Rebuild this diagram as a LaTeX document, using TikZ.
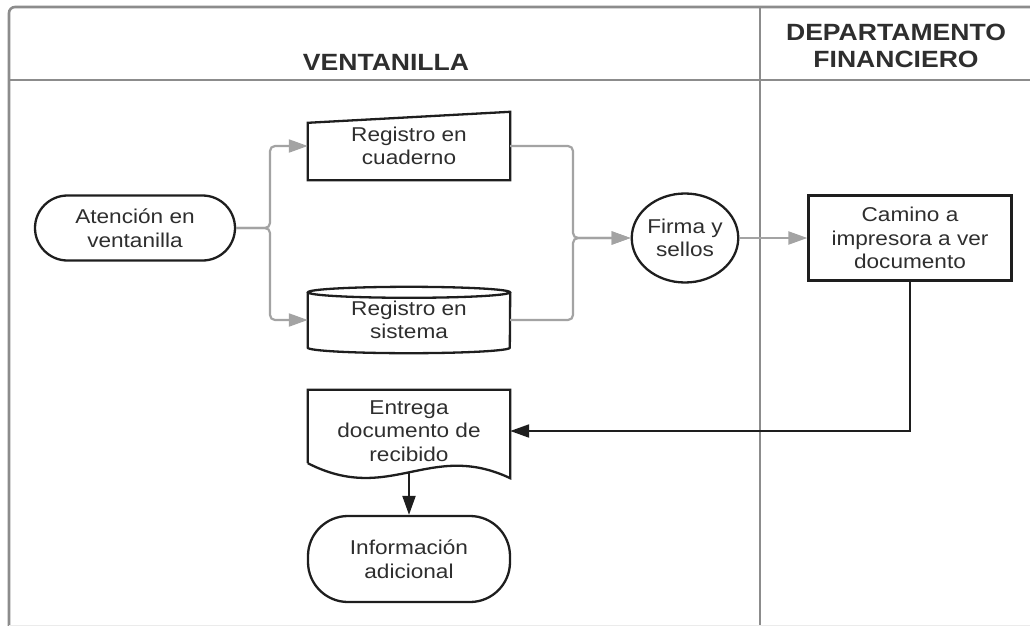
\documentclass[tikz,border=0pt]{standalone}
\usepackage{fontspec}
\setmainfont{Liberation Sans}[FakeStretch=1.13]
\usepackage{xcolor}
\usepackage{tikz}
\usetikzlibrary{calc,arrows.meta,shapes.geometric,shapes.misc}
\definecolor{ink}{HTML}{1E1E1E}
\definecolor{txt}{HTML}{2E2E2E}
\definecolor{lane}{HTML}{8C8C8C}
\definecolor{flow}{HTML}{A3A3A3}
\tikzset{
  lab/.style={text=txt, align=center, inner sep=0pt, font=\fontsize{20}{23.5}\selectfont},
  head/.style={text=txt, align=center, font=\fontsize{23.5}{27}\selectfont\bfseries},
  laneLine/.style={line width=2.6pt, draw=lane},
  shapeLine/.style={line width=2.3pt, draw=ink},
  flowGray/.style={line width=2.2pt, draw=flow, rounded corners=5pt, -{Triangle[length=19pt,width=13pt]}},
  flowBlack/.style={line width=2.2pt, draw=ink, -{Triangle[length=19pt,width=13pt]}}
}

\begin{document}
\begin{tikzpicture}[x=1pt,y=-1pt]
\useasboundingbox (0,0) rectangle (1030,626);
\clip (0,0) rectangle (1030,626);
% lanes
\draw[laneLine, rounded corners=6pt] (9,640) -- (9,7) -- (1040,7);
\draw[laneLine] (9,80) -- (1040,80);
\draw[laneLine] (760,7) -- (760,640);
\draw[line width=1pt, draw=black!8] (9,625) -- (1040,625);
\node[head] (ventanilla) at (386,62) {VENTANILLA};
\node[head] (depto) at (896,46) {DEPARTAMENTO\\FINANCIERO};

% ventanilla
\node[lab, shapeLine, rounded rectangle, minimum width=200pt, minimum height=65pt] (aten) at (135,228) {Atención en\\ventanilla};
\node[lab, minimum width=202pt, minimum height=68pt] (cuad) at (409,146) {Registro en\\cuaderno};
\draw[shapeLine] (cuad.south west) -- (cuad.south east) -- (cuad.north east) -- ($(cuad.north west)+(0,11)$) -- cycle;
\node[lab, minimum width=202pt, minimum height=66pt] (sist) at (409,320) {Registro en\\sistema};
\draw[shapeLine] ($(sist.north west)+(0,5.5)$) -- ($(sist.south west)+(0,-5.5)$)
  arc[start angle=180, end angle=360, x radius=101pt, y radius=5.5pt] -- ($(sist.north east)+(0,5.5)$);
\draw[shapeLine] ($(sist.north)+(0,5.5)$) ellipse[x radius=101pt, y radius=5.5pt];
\node[lab, shapeLine, ellipse, minimum width=100pt, minimum height=89pt] (firma) at (685,238) {Firma y\\sellos};
\node[lab, minimum width=202pt, minimum height=82pt] (entrega) at (409,431) {Entrega\\documento de\\recibido};
\draw[shapeLine] ($(entrega.south west)+(0,-9)$) -- (entrega.north west) -- (entrega.north east) -- ($(entrega.south east)+(0,6)$)
  .. controls ($(entrega.south west)+(122,-32)$) and ($(entrega.south west)+(82,33)$) .. ($(entrega.south west)+(0,-9)$);
\node[lab, shapeLine, rounded corners=40pt, minimum width=202pt, minimum height=86pt] (info) at (409,559) {Información\\adicional};

% departamento financiero
\node[lab, shapeLine, rectangle, minimum width=203pt, minimum height=85pt] (camino) at (910,238) {Camino a\\impresora a ver\\documento};

% connectors
\coordinate (split) at (270,228);
\coordinate (merge) at (573,238);
\draw[flowGray] (aten.east) -- (split) |- (cuad.west);
\draw[flowGray] (aten.east) -- (split) |- (sist.west);
\draw[flowGray] (cuad.east) -| (merge) -- (firma.west);
\draw[flowGray] (sist.east) -| (merge) -- (firma.west);
\draw[flowGray] (firma.east) -- (camino.west);
\draw[flowBlack] (camino.south) |- (entrega.east);
\draw[flowBlack] (entrega.south) -- (info.north);
\end{tikzpicture}
\end{document}
